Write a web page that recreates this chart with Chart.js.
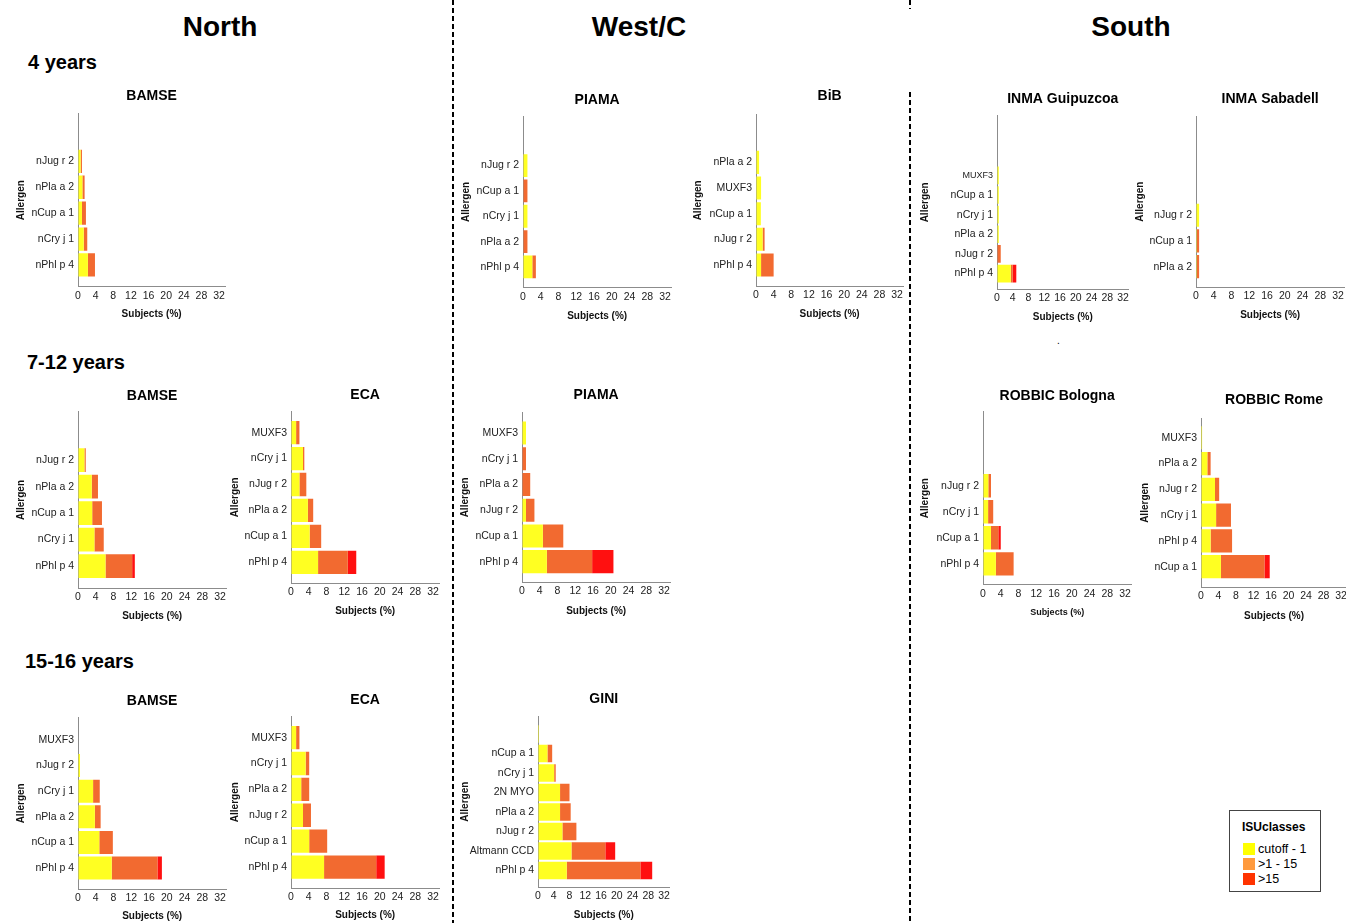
<!DOCTYPE html>
<html>
<head>
<meta charset="utf-8">
<script src="https://cdn.jsdelivr.net/npm/chart.js@4.4.1/dist/chart.umd.min.js"></script>
<style>
  body { margin: 0; width: 1346px; height: 923px; position: relative; overflow: hidden; background: #fff;
         font-family: Arial, "Liberation Sans", sans-serif; color: #000; }
  .abs { position: absolute; white-space: nowrap; }
  .region { font-size: 28px; font-weight: bold; transform: translate(-50%, -50%); }
  .age { font-size: 20px; font-weight: bold; transform: translateY(-50%); }
  canvas { position: absolute; }
  #legend { position: absolute; left: 1229px; top: 810px; width: 90px; height: 80px; border: 1px solid #444; }
  #legend .ttl { position: absolute; left: 12px; top: 9px; font-size: 12px; font-weight: bold; }
  #legend .row { position: absolute; left: 13px; font-size: 12.5px; line-height: 14px; }
  #legend .sw { display: inline-block; width: 12px; height: 12px; vertical-align: -2px; margin-right: 3px; }
</style>
</head>
<body>

<div class="abs region" style="left:220px;top:27px">North</div>
<div class="abs region" style="left:639px;top:27px">West/C</div>
<div class="abs region" style="left:1131px;top:27px">South</div>
<div class="abs age" style="left:28px;top:62px">4 years</div>
<div class="abs age" style="left:27px;top:362px">7-12 years</div>
<div class="abs age" style="left:25px;top:661px">15-16 years</div>
<div class="abs" style="left:1057px;top:335px;font-size:10px">.</div>

<svg class="abs" style="left:0;top:0" width="1346" height="923">
  <line x1="453" y1="0" x2="453" y2="923" stroke="#000" stroke-width="2" stroke-dasharray="5 3"/>
  <line x1="910" y1="0" x2="910" y2="9" stroke="#000" stroke-width="2" stroke-dasharray="5 3"/>
  <line x1="910" y1="92" x2="910" y2="923" stroke="#000" stroke-width="2" stroke-dasharray="5 3"/>
</svg>

<div id="legend"><div class="ttl">ISUclasses</div></div>

<script>
// ISU classes (stack order: left to right)
const classLabels = ['cutoff - 1', '>1 - 15', '>15'];
const classColors = ['#ffff22', '#f26a30', '#ff1010'];
const legendColors = ['#ffff00', '#ff9a3c', '#ff3300'];
const xTicks = [0, 4, 8, 12, 16, 20, 24, 28, 32];

// ---- 4 years ----
const bamse4Cats = ['nJug r 2', 'nPla a 2', 'nCup a 1', 'nCry j 1', 'nPhl p 4'];
const bamse4Low  = [0.6, 1.0, 0.9, 1.3, 2.25];
const bamse4Mid  = [0.3, 0.5, 0.9, 0.8, 1.6];
const bamse4High = [0, 0, 0, 0, 0];

const piama4Cats = ['nJug r 2', 'nCup a 1', 'nCry j 1', 'nPla a 2', 'nPhl p 4'];
const piama4Low  = [1.0, 0, 1.0, 0, 2.1];
const piama4Mid  = [0, 1.0, 0, 1.0, 0.8];
const piama4High = [0, 0, 0, 0, 0];

const bibCats = ['nPla a 2', 'MUXF3', 'nCup a 1', 'nJug r 2', 'nPhl p 4'];
const bibLow  = [0.7, 1.15, 1.1, 1.5, 1.15];
const bibMid  = [0, 0, 0, 0.45, 2.85];
const bibHigh = [0, 0, 0, 0, 0];

const inmaGCats = ['MUXF3', 'nCup a 1', 'nCry j 1', 'nPla a 2', 'nJug r 2', 'nPhl p 4'];
const inmaGLow  = [0.45, 0.45, 0.45, 0.45, 0, 3.5];
const inmaGMid  = [0, 0, 0, 0, 0.95, 0.5];
const inmaGHigh = [0, 0, 0, 0, 0, 0.9];

const inmaSCats = ['nJug r 2', 'nCup a 1', 'nPla a 2'];
const inmaSLow  = [0.7, 0.2, 0.2];
const inmaSMid  = [0, 0.5, 0.5];
const inmaSHigh = [0, 0, 0];

// ---- 7-12 years ----
const bamse712Cats = ['nJug r 2', 'nPla a 2', 'nCup a 1', 'nCry j 1', 'nPhl p 4'];
const bamse712Low  = [1.45, 3.1, 3.2, 3.7, 6.2];
const bamse712Mid  = [0.3, 1.4, 2.2, 2.1, 6.0];
const bamse712High = [0, 0, 0, 0, 0.6];

const eca712Cats = ['MUXF3', 'nCry j 1', 'nJug r 2', 'nPla a 2', 'nCup a 1', 'nPhl p 4'];
const eca712Low  = [1.15, 2.7, 1.9, 3.8, 4.2, 6.1];
const eca712Mid  = [0.75, 0.3, 1.55, 1.2, 2.6, 6.7];
const eca712High = [0, 0, 0, 0, 0, 1.9];

const piama712Cats = ['MUXF3', 'nCry j 1', 'nPla a 2', 'nJug r 2', 'nCup a 1', 'nPhl p 4'];
const piama712Low  = [0.9, 0, 0, 0.9, 4.7, 5.6];
const piama712Mid  = [0, 0.9, 1.85, 1.9, 4.6, 10.2];
const piama712High = [0, 0, 0, 0, 0, 4.8];

const bolognaCats = ['nJug r 2', 'nCry j 1', 'nCup a 1', 'nPhl p 4'];
const bolognaLow  = [1.2, 1.15, 1.8, 2.9];
const bolognaMid  = [0.6, 1.15, 1.65, 4.0];
const bolognaHigh = [0, 0, 0.55, 0];

const romeCats = ['MUXF3', 'nPla a 2', 'nJug r 2', 'nCry j 1', 'nPhl p 4', 'nCup a 1'];
const romeLow  = [0.25, 1.45, 3.2, 3.45, 2.2, 4.55];
const romeMid  = [0, 0.75, 0.95, 3.4, 4.9, 9.95];
const romeHigh = [0, 0, 0, 0, 0, 1.2];

// ---- 15-16 years ----
const bamse1516Cats = ['MUXF3', 'nJug r 2', 'nCry j 1', 'nPla a 2', 'nCup a 1', 'nPhl p 4'];
const bamse1516Low  = [0, 0.45, 3.4, 3.8, 4.8, 7.6];
const bamse1516Mid  = [0, 0, 1.5, 1.3, 3.05, 10.3];
const bamse1516High = [0, 0, 0, 0, 0, 1.0];

const eca1516Cats = ['MUXF3', 'nCry j 1', 'nPla a 2', 'nJug r 2', 'nCup a 1', 'nPhl p 4'];
const eca1516Low  = [1.15, 3.3, 2.3, 2.7, 4.1, 7.45];
const eca1516Mid  = [0.75, 0.8, 1.8, 1.8, 4.05, 11.75];
const eca1516High = [0, 0, 0, 0, 0, 1.9];

const giniCats = ['', 'nCup a 1', 'nCry j 1', '2N MYO', 'nPla a 2', 'nJug r 2', 'Altmann CCD', 'nPhl p 4'];
const giniLow  = [0.25, 2.4, 4.1, 5.6, 5.6, 6.2, 8.5, 7.3];
const giniMid  = [0, 1.2, 0.4, 2.4, 2.7, 3.55, 8.6, 18.7];
const giniHigh = [0, 0, 0, 0, 0, 0, 2.5, 3.0];

// layout of each small chart (px0 = pixel of 0 %, ppu = px per %, top/bot = axis ends)
const X_MAX = 33.4;
const FONT = 'Arial, "Liberation Sans", sans-serif';
const panels = [
  { title: 'BAMSE', cats: bamse4Cats, vals: [bamse4Low, bamse4Mid, bamse4High],
    px0: 78, ppu: 4.3, top: 114, bot: 287, yMin: -1.84, yMax: 4.84, titleY: 96.7, subjY: 314.3, aOff: 57 },
  { title: 'PIAMA', cats: piama4Cats, vals: [piama4Low, piama4Mid, piama4High],
    px0: 523, ppu: 4.33, top: 116, bot: 287, yMin: -1.94, yMax: 4.81, titleY: 100, subjY: 315.5, aOff: 57 },
  { title: 'BiB', cats: bibCats, vals: [bibLow, bibMid, bibHigh],
    px0: 756, ppu: 4.3, top: 115, bot: 286, yMin: -1.86, yMax: 4.82, titleY: 96.7, subjY: 314, aOff: 58 },
  { title: 'INMA Guipuzcoa', cats: inmaGCats, vals: [inmaGLow, inmaGMid, inmaGHigh], small: ['MUXF3'],
    px0: 997, ppu: 3.85, top: 115, bot: 289, yMin: -3.05, yMax: 5.8, titleY: 99, subjY: 316.7, aOff: 72 },
  { title: 'INMA Sabadell', cats: inmaSCats, vals: [inmaSLow, inmaSMid, inmaSHigh],
    px0: 1196, ppu: 4.33, top: 116, bot: 287, yMin: -3.84, yMax: 2.79, titleY: 99, subjY: 315, aOff: 56 },

  { title: 'BAMSE', cats: bamse712Cats, vals: [bamse712Low, bamse712Mid, bamse712High],
    px0: 78, ppu: 4.33, top: 412, bot: 588, yMin: -1.83, yMax: 4.84, titleY: 396.7, subjY: 615.7, aOff: 57 },
  { title: 'ECA', cats: eca712Cats, vals: [eca712Low, eca712Mid, eca712High],
    px0: 291, ppu: 4.35, top: 411, bot: 583, yMin: -0.82, yMax: 5.81, titleY: 395, subjY: 610.7, aOff: 56 },
  { title: 'PIAMA', cats: piama712Cats, vals: [piama712Low, piama712Mid, piama712High],
    px0: 522, ppu: 4.33, top: 412, bot: 582, yMin: -0.8, yMax: 5.8, titleY: 395, subjY: 610.7, aOff: 57 },
  { title: 'ROBBIC Bologna', cats: bolognaCats, vals: [bolognaLow, bolognaMid, bolognaHigh], subjSize: 9,
    px0: 983, ppu: 4.33, top: 412, bot: 585, yMin: -2.84, yMax: 3.8, titleY: 396.7, subjY: 612.3, aOff: 58 },
  { title: 'ROBBIC Rome', cats: romeCats, vals: [romeLow, romeMid, romeHigh],
    px0: 1201, ppu: 4.28, top: 418, bot: 587, yMin: -0.75, yMax: 5.8, titleY: 400, subjY: 615.7, aOff: 56 },

  { title: 'BAMSE', cats: bamse1516Cats, vals: [bamse1516Low, bamse1516Mid, bamse1516High],
    px0: 78, ppu: 4.33, top: 717, bot: 889, yMin: -0.88, yMax: 5.83, titleY: 701, subjY: 915.7, aOff: 57 },
  { title: 'ECA', cats: eca1516Cats, vals: [eca1516Low, eca1516Mid, eca1516High],
    px0: 291, ppu: 4.35, top: 716, bot: 888, yMin: -0.82, yMax: 5.81, titleY: 700, subjY: 915, aOff: 56 },
  { title: 'GINI', cats: giniCats, vals: [giniLow, giniMid, giniHigh],
    px0: 538, ppu: 3.87, top: 716, bot: 887, yMin: -0.9, yMax: 7.85, titleY: 699, subjY: 915, aOff: 73 },
];

Chart.defaults.font.family = FONT;
Chart.defaults.color = '#111';

function makePanel(p) {
  const yw = p.aOff + 13;
  const left = p.px0 - yw;
  const top = Math.round(p.titleY - 10.4);
  const width = Math.round(yw + p.ppu * X_MAX + 6);
  const height = Math.round(p.subjY + 8 - top);
  const cv = document.createElement('canvas');
  cv.width = width;
  cv.height = height;
  cv.style.left = left + 'px';
  cv.style.top = top + 'px';
  document.body.appendChild(cv);

  const datasets = classLabels.map((lab, k) => ({
    label: lab,
    data: p.cats.map((c, i) => ({ x: p.vals[k][i], y: i })),
    backgroundColor: classColors[k],
    borderWidth: 0,
    barPercentage: 0.9,
    categoryPercentage: 1,
  }));

  new Chart(cv, {
    type: 'bar',
    data: { datasets: datasets },
    options: {
      indexAxis: 'y',
      responsive: false,
      animation: false,
      devicePixelRatio: 1,
      layout: { padding: 0 },
      plugins: {
        legend: { display: false },
        tooltip: { enabled: false },
        title: {
          display: true, text: p.title, fullSize: false, color: '#000',
          font: { size: 14, weight: 'bold' },
          padding: { top: 2, bottom: p.top - p.titleY - 8.4 },
        },
      },
      scales: {
        x: {
          type: 'linear', stacked: true, min: 0, max: X_MAX, offset: false,
          grid: { display: true, drawOnChartArea: false, drawTicks: false, offset: false },
          border: { display: true, color: '#8c8c8c', width: 1 },
          ticks: {
            stepSize: 4, includeBounds: false, autoSkip: false, maxRotation: 0, padding: 3,
            font: { size: 10.5 }, color: '#222',
            callback: (v) => (xTicks.includes(v) ? String(v) : ''),
          },
          title: {
            display: true, text: 'Subjects (%)', color: '#111',
            font: { size: p.subjSize || 10, weight: 'bold' },
            padding: { top: 4, bottom: 2 },
          },
          afterFit: (s) => { s.height = p.subjY + 8 - p.bot; },
        },
        y: {
          type: 'linear', stacked: true, reverse: true, min: p.yMin, max: p.yMax, offset: false,
          grid: { display: true, drawOnChartArea: false, drawTicks: false, offset: false },
          border: { display: true, color: '#8c8c8c', width: 1 },
          afterBuildTicks: (s) => { s.ticks = p.cats.map((c, i) => ({ value: i })); },
          ticks: {
            autoSkip: false, padding: 4, color: '#222',
            font: (ctx) => ({ size: p.small && ctx.tick && p.small.includes(p.cats[ctx.tick.value]) ? 9 : 10.5 }),
            callback: (v) => (p.cats[v] !== undefined ? p.cats[v] : ''),
          },
          title: {
            display: true, text: 'Allergen', color: '#111',
            font: { size: 10, weight: 'bold' },
            padding: { top: 7, bottom: 0 },
          },
          afterFit: (s) => { s.width = yw; },
        },
      },
    },
  });
}

panels.forEach(makePanel);

// legend box
const legend = document.getElementById('legend');
classLabels.forEach((lab, k) => {
  const row = document.createElement('div');
  row.className = 'row';
  row.style.top = (31 + k * 15) + 'px';
  row.innerHTML = '<span class="sw" style="background:' + legendColors[k] + '"></span>' + lab.replace('>', '&gt;');
  legend.appendChild(row);
});
</script>
</body>
</html>
